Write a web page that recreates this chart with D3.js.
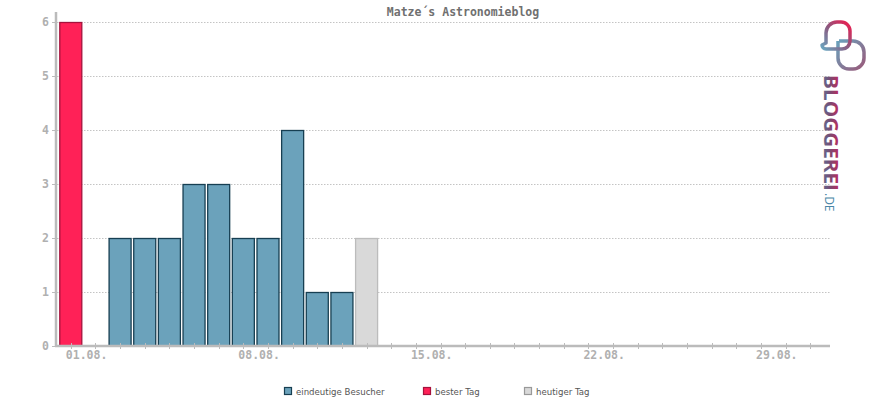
<!DOCTYPE html>
<html><head><meta charset="utf-8">
<script src="https://cdn.jsdelivr.net/npm/d3@7"></script>
<style>body{margin:0;background:#fff}svg{display:block}</style>
</head><body>
<svg id="c" width="870" height="400"></svg>
<script>
const title = "Matze´s Astronomieblog";
const days = d3.range(1, 32);
const values = [6,0,2,2,2,3,3,2,2,4,1,1,2];
const bestDay = 1;
const today = 13;
const xTickLabels = [[1,"01.08."],[8,"08.08."],[15,"15.08."],[22,"22.08."],[29,"29.08."]];
const yTicks = [0,1,2,3,4,5,6];
const legendItems = ["eindeutige Besucher","bester Tag","heutiger Tag"];

const svg = d3.select("#c");
const x = d3.scaleLinear().domain([0.4, 31.8]).range([56, 830]);
const y = d3.scaleLinear().domain([0, 6]).range([346, 22]);
const axisCol = "#bbbbbb", labCol = "#b0b0b0";
const mono = "'DejaVu Sans Mono', monospace";

// gridlines
svg.append("g").selectAll("line").data(yTicks.filter(d=>d>0)).join("line")
  .attr("x1", 57).attr("x2", 830).attr("y1", d=>y(d)+0.5).attr("y2", d=>y(d)+0.5)
  .attr("stroke", "#c4c4c4").attr("stroke-width", 1).attr("stroke-dasharray", "1.5,1.5");

// bars
const bw = 22;
const data = values.map((v,i)=>({day:i+1, v}));
function fillOf(d){ return d.day===bestDay ? "#ff2157" : d.day===today ? "#d9d9d9" : "#6ba2bb"; }
function strokeOf(d){ return d.day===bestDay ? "#a5123c" : d.day===today ? "#bcbcbc" : "#173f52"; }
svg.append("g").selectAll("rect").data(data.filter(d=>d.v>0)).join("rect")
  .attr("x", d=>x(d.day)-bw/2).attr("y", d=>y(d.v)+0.5)
  .attr("width", bw).attr("height", d=>y(0)-y(d.v)-0.5)
  .attr("fill", fillOf).attr("stroke", strokeOf).attr("stroke-width", 1.3);

// x axis
svg.append("line").attr("x1", 55).attr("x2", x(31.8)).attr("y1", 346).attr("y2", 346)
  .attr("stroke", axisCol).attr("stroke-width", 2.5);
svg.append("g").selectAll("line").data(days).join("line")
  .attr("x1", d=>Math.round(x(d))+0.5).attr("x2", d=>Math.round(x(d))+0.5)
  .attr("y1", 343).attr("y2", 349).attr("stroke", axisCol).attr("stroke-width", 1);
svg.append("g").selectAll("text").data(xTickLabels).join("text")
  .attr("x", d=>x(d[0])-5).attr("y", 359).text(d=>d[1])
  .attr("font-family", mono).attr("font-weight","bold").attr("font-size", 11.5)
  .attr("fill", labCol);

// y axis
svg.append("line").attr("x1", 56).attr("x2", 56).attr("y1", 12).attr("y2", 347)
  .attr("stroke", axisCol).attr("stroke-width", 2.5);
svg.append("g").selectAll("line").data(yTicks).join("line")
  .attr("x1", 52).attr("x2", 56).attr("y1", d=>y(d)+0.5).attr("y2", d=>y(d)+0.5)
  .attr("stroke", axisCol).attr("stroke-width", 1);
svg.append("g").selectAll("text").data(yTicks).join("text")
  .attr("x", 49).attr("y", d=>y(d)+4).attr("text-anchor","end").text(d=>d)
  .attr("font-family", mono).attr("font-weight","bold").attr("font-size", 11.5)
  .attr("fill", labCol);

// title
svg.append("text").attr("x", 463).attr("y", 16).attr("text-anchor","middle").text(title)
  .attr("font-family", mono).attr("font-weight","bold").attr("font-size", 11.5)
  .attr("fill", "#707070");

// legend
const legX = [284, 423, 524];
const legFill = ["#6ba2bb","#ff2157","#d9d9d9"];
const legStroke = ["#173f52","#a5123c","#999999"];
const lg = svg.append("g").selectAll("g").data(legendItems).join("g")
  .attr("transform", (d,i)=>`translate(${legX[i]},387)`);
lg.append("rect").attr("x",0.5).attr("y",0.5).attr("width",7).attr("height",7)
  .attr("fill",(d,i)=>legFill[i]).attr("stroke",(d,i)=>legStroke[i]).attr("stroke-width",1.2);
lg.append("text").attr("x", 12).attr("y", 8).text(d=>d)
  .attr("font-family","'DejaVu Sans', sans-serif").attr("font-size", 8.6).attr("fill","#555");

// logo
const defs = svg.append("defs");
const g1 = defs.append("linearGradient").attr("id","lgA").attr("x1","0").attr("y1","0").attr("x2","0").attr("y2","1");
g1.append("stop").attr("offset","0").attr("stop-color","#e8174f");
g1.append("stop").attr("offset","0.55").attr("stop-color","#7a4a72");
g1.append("stop").attr("offset","1").attr("stop-color","#4a86a6");
const g2 = defs.append("linearGradient").attr("id","lgB").attr("x1","1").attr("y1","0").attr("x2","0").attr("y2","1");
g2.append("stop").attr("offset","0").attr("stop-color","#f01a4e");
g2.append("stop").attr("offset","0.5").attr("stop-color","#8a5a80");
g2.append("stop").attr("offset","1").attr("stop-color","#6aa6c0");
const g3 = defs.append("linearGradient").attr("id","lgC").attr("x1","0").attr("y1","0").attr("x2","1").attr("y2","1");
g3.append("stop").attr("offset","0").attr("stop-color","#6aa0bb");
g3.append("stop").attr("offset","1").attr("stop-color","#9a5a7a");
const logo = svg.append("g");
logo.append("path").attr("d","M839,41 h14 a11,11 0 0 1 11,11 v6 a11,11 0 0 1 -11,11 h-4 a11,11 0 0 1 -11,-11 v-17")
  .attr("fill","none").attr("stroke","url(#lgC)").attr("stroke-width",3.5);
logo.append("path").attr("d","M826,43 v-10 a11,11 0 0 1 11,-11 h4 a9,9 0 0 1 9,9 v10 a8,8 0 0 1 -8,8 h-16 a4,4 0 0 1 -4,-4 z")
  .attr("fill","none").attr("stroke","url(#lgB)").attr("stroke-width",3.5).attr("stroke-linejoin","round");
logo.append("text").attr("transform","translate(824,75) rotate(90)")
  .attr("font-family","'Open Sans', sans-serif").attr("font-weight","bold").attr("font-size",20)
  .attr("textLength",116).attr("lengthAdjust","spacingAndGlyphs")
  .attr("fill","url(#lgA)").text("BLOGGEREI");
logo.append("text").attr("transform","translate(825,193) rotate(90)")
  .attr("font-family","'Open Sans', sans-serif").attr("font-size",12)
  .attr("fill","#4a86a6").text(".DE");
</script>
</body></html>
